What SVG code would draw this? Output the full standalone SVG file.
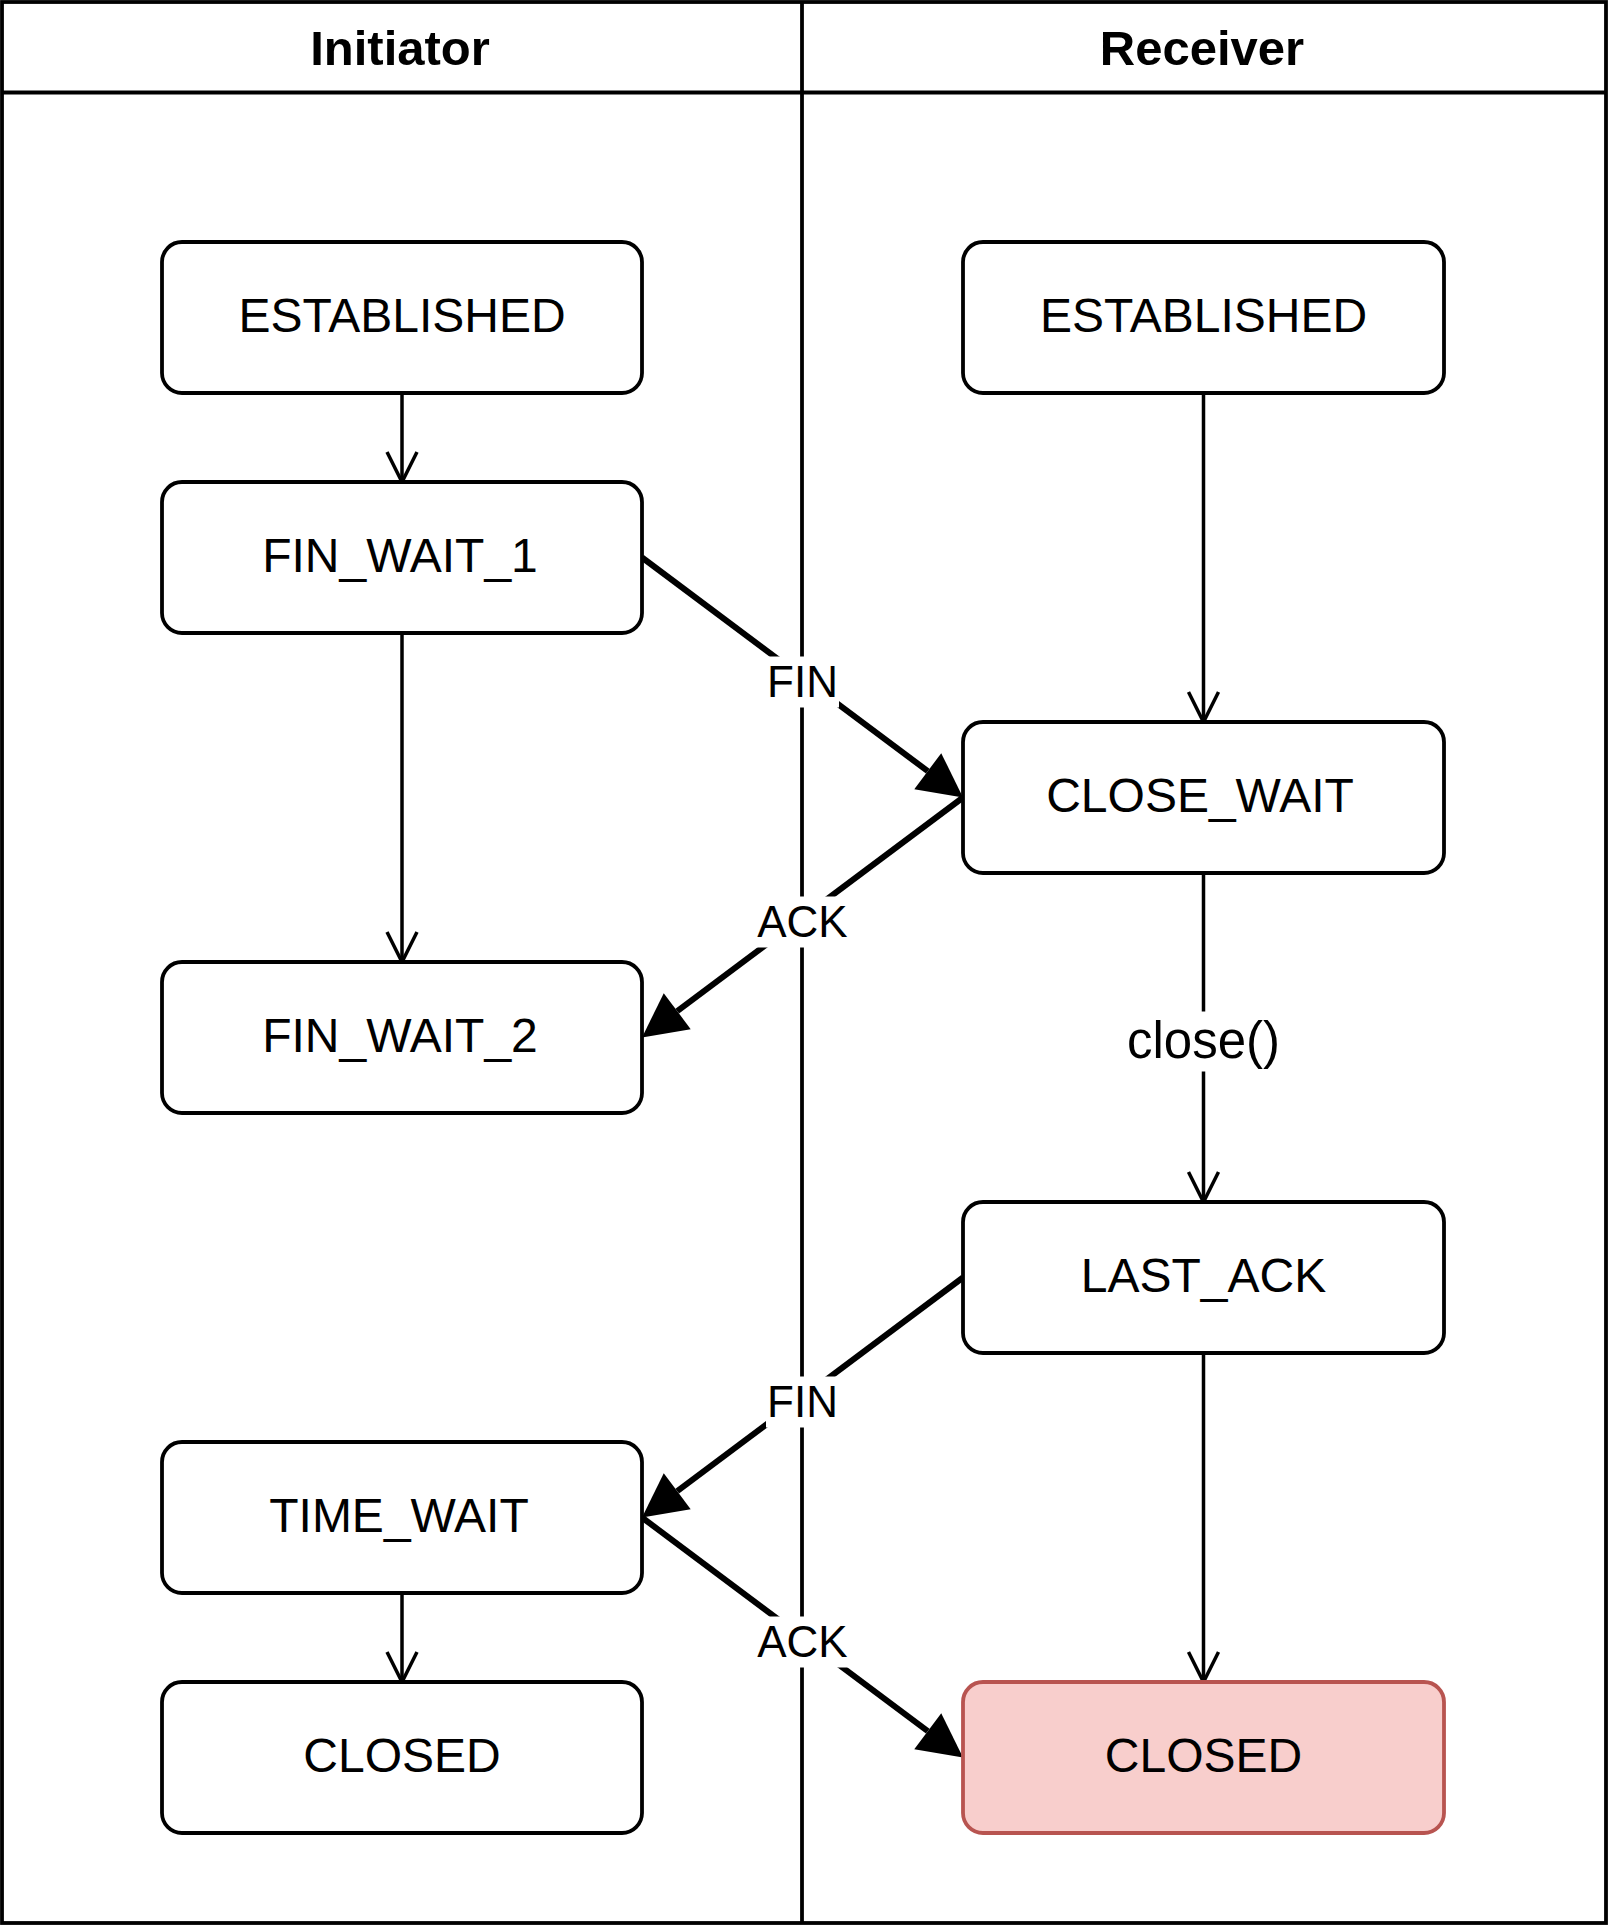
<svg xmlns="http://www.w3.org/2000/svg" width="1612" height="1928" viewBox="0 0 1612 1928">
<defs>
<style>
.pool{fill:none;stroke:#000;stroke-width:3.8}
.lane{stroke:#000;stroke-width:3.8}
.hdr{font-family:'Liberation Sans',Arial,Helvetica,sans-serif;font-weight:bold;font-size:49px;text-anchor:middle;fill:#000}
.node rect{fill:#fff;stroke:#000;stroke-width:3.8}
.node.red rect{fill:#f8cecc;stroke:#b85450}
.node text{font-family:'Liberation Sans',Arial,Helvetica,sans-serif;font-size:48px;text-anchor:middle;fill:#000}
.thin{fill:none;stroke:#000;stroke-width:3.5;marker-end:url(#open)}
.thick{fill:none;stroke:#000;stroke-width:6;marker-end:url(#block)}
.lblbg{fill:#fff}
.lbl{font-family:'Liberation Sans',Arial,Helvetica,sans-serif;font-size:44px;text-anchor:middle;fill:#000}
.lbl.big{font-size:51px}
</style>
<marker id="open" markerUnits="userSpaceOnUse" viewBox="-34 -18 38 36" markerWidth="38" markerHeight="36" refX="0" refY="0" orient="auto" overflow="visible">
<path d="M-30,-15 L0,0 L-30,15" fill="none" stroke="#000" stroke-width="3.5"/>
</marker>
<marker id="block" markerUnits="userSpaceOnUse" viewBox="0 -23 45 46" markerWidth="45" markerHeight="46" refX="0" refY="0" orient="auto" overflow="visible">
<path d="M0,-22.5 L44,0 L0,22.5 Z" fill="#000"/>
</marker>
</defs>
<rect width="1612" height="1928" fill="#fff"/>
<g id="pool">
<rect class="pool" x="2" y="2" width="1604" height="1921"/>
<line class="lane" x1="2" y1="92.5" x2="1606" y2="92.5"/>
<line class="lane" x1="802" y1="2" x2="802" y2="1923"/>
<text class="hdr" x="400" y="64.5">Initiator</text>
<text class="hdr" x="1202" y="64.5">Receiver</text>
</g>
<g id="connectors">
<path class="thin" d="M402,393 L402,482"/>
<path class="thin" d="M402,633 L402,962"/>
<path class="thin" d="M1203.5,393 L1203.5,722"/>
<path class="thin" d="M1203.5,873 L1203.5,1202"/>
<path class="thin" d="M1203.5,1353 L1203.5,1682"/>
<path class="thin" d="M402,1593 L402,1682"/>
<path class="thick" d="M642,557.5 L927.76,771.15"/>
<path class="thick" d="M963,797.5 L677.24,1011.15"/>
<path class="thick" d="M963,1277.5 L677.24,1491.15"/>
<path class="thick" d="M642,1517.5 L927.76,1731.15"/>
<g id="labels">
<rect class="lblbg" x="766" y="656.5" width="73" height="51"/>
<text class="lbl" x="802.5" y="696.5">FIN</text>
<rect class="lblbg" x="755" y="896.5" width="95" height="51"/>
<text class="lbl" x="802.5" y="936.5">ACK</text>
<rect class="lblbg" x="766" y="1376.5" width="73" height="51"/>
<text class="lbl" x="802.5" y="1416.5">FIN</text>
<rect class="lblbg" x="755" y="1616.5" width="95" height="51"/>
<text class="lbl" x="802.5" y="1656.5">ACK</text>
<rect class="lblbg" x="1120" y="1011.5" width="167" height="60"/>
<text class="lbl big" x="1203.5" y="1058">close()</text>
</g>
</g>
<g id="init-established" class="node"><rect x="162" y="242" width="480" height="151" rx="20"/><text x="402" y="331.5">ESTABLISHED</text></g>
<g id="fin-wait-1" class="node"><rect x="162" y="482" width="480" height="151" rx="20"/><text x="400" y="571.5">FIN_WAIT_1</text></g>
<g id="fin-wait-2" class="node"><rect x="162" y="962" width="480" height="151" rx="20"/><text x="400" y="1051.5">FIN_WAIT_2</text></g>
<g id="time-wait" class="node"><rect x="162" y="1442" width="480" height="151" rx="20"/><text x="399" y="1531.5">TIME_WAIT</text></g>
<g id="init-closed" class="node"><rect x="162" y="1682" width="480" height="151" rx="20"/><text x="402" y="1771.5">CLOSED</text></g>
<g id="recv-established" class="node"><rect x="963" y="242" width="481" height="151" rx="20"/><text x="1203.5" y="331.5">ESTABLISHED</text></g>
<g id="close-wait" class="node"><rect x="963" y="722" width="481" height="151" rx="20"/><text x="1200" y="811.5">CLOSE_WAIT</text></g>
<g id="last-ack" class="node"><rect x="963" y="1202" width="481" height="151" rx="20"/><text x="1203.5" y="1291.5">LAST_ACK</text></g>
<g id="recv-closed" class="node red"><rect x="963" y="1682" width="481" height="151" rx="20"/><text x="1203.5" y="1771.5">CLOSED</text></g>
</svg>
